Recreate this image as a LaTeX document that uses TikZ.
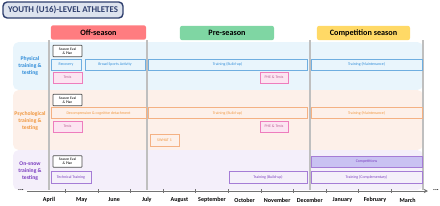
\documentclass[tikz,border=0pt]{standalone}
\usepackage{fontspec}
\setmainfont{Carlito}
\usetikzlibrary{arrows.meta,
                positioning}

\definecolor{navy}{HTML}{2F3F6E}
\definecolor{titlefill}{HTML}{DDE3EE}
\definecolor{offred}{HTML}{FF7C80}
\definecolor{pregreen}{HTML}{7FD6A3}
\definecolor{compyellow}{HTML}{FFD966}
\definecolor{physband}{HTML}{E9F5FC}
\definecolor{psyband}{HTML}{FDF0E9}
\definecolor{snowband}{HTML}{F4EFFA}
\definecolor{physline}{HTML}{6FAEE0}
\definecolor{phystext}{HTML}{2E8BD8}
\definecolor{psyline}{HTML}{F4B183}
\definecolor{psytext}{HTML}{F0973F}
\definecolor{snowline}{HTML}{A57CD6}
\definecolor{snowtext}{HTML}{7A3DBF}
\definecolor{compfill}{HTML}{C9C2F2}
\definecolor{testline}{HTML}{EE7DBD}
\definecolor{testfill}{HTML}{FCE4F1}

\begin{document}
\begin{tikzpicture}[
        x=0.025cm, y=-0.025cm,
        heading/.style={rectangle, rounded corners=3pt, draw=navy, line width=1pt, fill=titlefill, minimum width=3cm, minimum height=0.4cm, inner sep=0pt, text=navy, font=\fontsize{6.3}{7}\selectfont\bfseries},
        period/.style={rectangle, rounded corners=1.5pt, minimum height=0.36cm, inner sep=0pt, font=\fontsize{5.8}{6.5}\selectfont\bfseries},
        rowlabel/.style={align=center, inner sep=0pt, font=\fontsize{4}{5}\selectfont\bfseries},
        evalbox/.style={rectangle, rounded corners=0.5pt, draw=black!70, fill=white, line width=0.5pt, minimum width=0.725cm, minimum height=0.29cm, inner sep=0pt, align=center, font=\fontsize{2.6}{3}\selectfont},
        activity/.style={rectangle, line width=0.6pt, minimum height=0.275cm, inner sep=0pt, font=\fontsize{2.8}{3.2}\selectfont},
        physbox/.style={activity, draw=physline, fill=physband, text=phystext},
        psybox/.style={activity, draw=psyline, fill=psyband, text=psytext},
        snowbox/.style={activity, draw=snowline, fill=snowband, text=snowtext},
        testbox/.style={activity, draw=testline, fill=testfill, text=testline!80!black},
        month/.style={inner sep=0pt, font=\fontsize{4.3}{5}\selectfont\bfseries}
        ]

        \useasboundingbox (0,0) rectangle (440,205);

        % row bands
        \fill [physband, rounded corners=4pt] (13,42) rectangle (423,90);
        \fill [psyband,  rounded corners=4pt] (13,90) rectangle (423,150);
        \fill [snowband, rounded corners=4pt] (13,150) rectangle (423,190);

        % season boundaries
        \foreach \vx/\vn in {49/a, 147/b, 310/c, 423/d} {
            \coordinate (top\vn) at (\vx,40);
            \coordinate (bot\vn) at (\vx,190);
            \draw [black!25, line width=0.8pt] (top\vn) -- (bot\vn);
        }

        \node (title)      [heading]                                          at (63,10)     {YOUTH (U16)-LEVEL ATHLETES};
        \node (offseason)  [period, fill=offred, minimum width=2.375cm]      at (98.5,32.5) {Off-season};
        \node (preseason)  [period, fill=pregreen, minimum width=2.35cm]     at (227,33)    {Pre-season};
        \node (compseason) [period, fill=compyellow, minimum width=2.325cm]  at (363.5,33)  {Competition season};

        \node (physlabel) [rowlabel, text=phystext] at (30,66)  {Physical\\training \&\\testing};
        \node (psylabel)  [rowlabel, text=psytext]  at (30,121) {Psychological\\training \&\\testing};
        \node (snowlabel) [rowlabel, text=snowtext] at (30,171) {On-snow\\training \&\\testing};

        % physical
        \node (eval1)  [evalbox]                          at (67.5,51)    {Season Eval\\\& Plan};
        \node (recov)  [physbox, minimum width=0.75cm]    at (66,64.5)    {Recovery};
        \node (broad)  [physbox, minimum width=1.5cm]     at (115,64.5)   {Broad Sports Activity};
        \node (build1) [physbox, minimum width=3.975cm]   at (227.5,64.5) {Training (Build-up)};
        \node (maint1) [physbox, minimum width=2.775cm]   at (366.5,64.5) {Training (Maintenance)};
        \node (tests1) [testbox, minimum width=0.725cm]   at (67.5,77.5)  {Tests};
        \node (phe1)   [testbox, minimum width=0.7cm]     at (274,77.5)   {PHE \& Tests};

        % psychological
        \node (eval2)  [evalbox]                          at (67.5,100)   {Season Eval\\\& Plan};
        \node (decomp) [psybox, minimum width=2.375cm]    at (98.5,113)   {Decompression \& cognitive detachment};
        \node (build2) [psybox, minimum width=3.975cm]    at (227.5,113)  {Training (Build-up)};
        \node (maint2) [psybox, minimum width=2.775cm]    at (366.5,113)  {Training (Maintenance)};
        \node (tests2) [testbox, minimum width=0.725cm]   at (67.5,126.5) {Tests};
        \node (phe2)   [testbox, minimum width=0.7cm]     at (274,126.5)  {PHE \& Tests};
        \node (swhat)  [psybox, minimum width=0.725cm, minimum height=0.3cm] at (164.5,140) {SWHAT 1};

        % on-snow
        \node (eval3)  [evalbox]                          at (67.5,161.5) {Season Eval\\\& Plan};
        \node (tech)   [snowbox, minimum width=1cm, minimum height=0.3cm]    at (71,177)     {Technical Training};
        \node (build3) [snowbox, minimum width=1.95cm, minimum height=0.3cm] at (268,177)    {Training (Build-up)};
        \node (comps)  [snowbox, fill=compfill, minimum width=2.775cm]       at (366.5,161.5) {Competitions};
        \node (compl)  [snowbox, minimum width=2.775cm, minimum height=0.3cm] at (366.5,177) {Training (Complementary)};

        % time axis
        \node (dotsl) [inner sep=0pt, font=\fontsize{5}{5}\selectfont\bfseries] at (21,190) {...};
        \node (dotsr) [inner sep=0pt, font=\fontsize{5}{5}\selectfont\bfseries] at (436,190) {...};
        \coordinate (axstart) at (27,191);
        \coordinate (axend)   at (428,191);
        \draw [black!55, line width=0.6pt, -{Stealth[length=3pt, width=3pt]}] (axstart) -- (axend);
        \foreach \k in {0,...,10}
            \draw [black!55, line width=0.5pt] ({65.3+32.6*\k},189) -- ({65.3+32.6*\k},193);
        \foreach \m [count=\i from 0] in {April, May, June, July, August, September, October, November, December, January, February, March}
            \node (m\i) [month] at ({49+32.6*\i},200) {\m};

    \end{tikzpicture}
\end{document}
